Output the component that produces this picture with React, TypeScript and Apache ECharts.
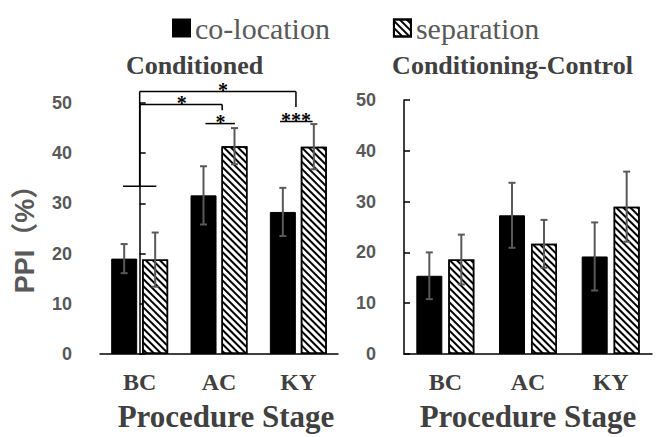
import React, { useEffect, useRef } from 'react';
import * as echarts from 'echarts';

const categories = ['BC', 'AC', 'KY'];
const seriesNames = ['co-location', 'separation'];
const panelTitles = ['Conditioned', 'Conditioning-Control'];
const yAxisName = 'PPI（%）';
const xAxisName = 'Procedure Stage';

// Conditioned panel
const condColocation = [19.0, 31.6, 28.3];
const condColocationErr = [2.9, 5.8, 4.8];
const condSeparation = [18.8, 41.4, 41.3];
const condSeparationErr = [5.4, 3.6, 4.5];

// Conditioning-Control panel
const ctrlColocation = [15.4, 27.3, 19.2];
const ctrlColocationErr = [4.6, 6.4, 6.7];
const ctrlSeparation = [18.6, 21.7, 29.0];
const ctrlSeparationErr = [4.9, 4.7, 6.9];

// significance brackets (x in category-index units, y in PPI units)
const sigLines = [
  [-0.21, 33.4, 0.21, 33.4],
  [0, 33.4, 0, 52.3],
  [0, 52.3, 1.97, 52.3],
  [1.97, 52.3, 1.97, 49.2],
  [0, 49.7, 1.04, 49.7],
  [1.04, 49.7, 1.04, 48.55],
  [0.83, 45.9, 1.2, 45.9],
  [1.77, 46.3, 2.18, 46.3],
];
const sigStarPos = [
  [1.05, 52.3],
  [0.53, 49.7],
  [1.02, 45.9],
  [1.97, 46.3],
];
const sigStarText = ['*', '*', '*', '***'];

const SERIF = '"Liberation Serif", "Times New Roman", serif';
const SANS = '"Liberation Sans", "Noto Sans CJK SC", sans-serif';

const hatch = {
  symbol: 'rect',
  symbolSize: 1,
  dashArrayX: [1, 0],
  dashArrayY: [2, 2.2],
  rotation: Math.PI / 4,
  color: '#000',
  backgroundColor: '#fff',
};

function errRender(offset: number) {
  return (params: any, api: any) => {
    const i = api.value(0);
    const m = api.value(1);
    const e = api.value(2);
    const top = api.coord([i, m + e]);
    const bot = api.coord([i, m - e]);
    const x = top[0] + offset;
    const cap = 3.5;
    const st = { stroke: '#595959', lineWidth: 2 };
    return {
      type: 'group',
      children: [
        { type: 'line', shape: { x1: x, y1: top[1], x2: x, y2: bot[1] }, style: st },
        { type: 'line', shape: { x1: x - cap, y1: top[1], x2: x + cap, y2: top[1] }, style: st },
        { type: 'line', shape: { x1: x - cap, y1: bot[1], x2: x + cap, y2: bot[1] }, style: st },
      ],
    };
  };
}

const errData = (vals: number[], errs: number[]) => vals.map((v, i) => [i, v, errs[i]]);

export default function App() {
  const ref = useRef<HTMLDivElement>(null);
  useEffect(() => {
    if (!ref.current) return;
    const chart = echarts.init(ref.current, null, { renderer: 'svg' });

    const yAxisBase = {
      type: 'value',
      min: 0,
      max: 50,
      interval: 10,
      axisLine: { show: true, lineStyle: { color: '#000', width: 1.5 } },
      axisTick: { show: true, inside: true, length: 6, lineStyle: { color: '#000', width: 1.5 } },
      splitLine: { show: false },
      axisLabel: { fontFamily: SANS, fontWeight: 'bold', fontSize: 18, color: '#595959', margin: 28 },
    };
    const xAxisBase = {
      type: 'category',
      data: categories,
      axisLine: { show: true, lineStyle: { color: '#000', width: 1.5 } },
      axisTick: { show: false },
      axisLabel: { fontFamily: SERIF, fontWeight: 'bold', fontSize: 24, color: '#404040', margin: 16 },
      name: xAxisName,
      nameLocation: 'middle',
      nameGap: 47,
    };
    const xNameStyle = { fontFamily: SERIF, fontWeight: 'bold', fontSize: 31, color: '#404040' };

    const blackStyle = { color: '#000', borderColor: '#000', borderWidth: 1 };
    const hatchStyle = { color: '#fff', borderColor: '#000', borderWidth: 1.5, decal: hatch };

    chart.setOption({
      animation: false,
      backgroundColor: '#fff',
      legend: {
        data: seriesNames,
        left: 167,
        top: 8,
        icon: 'rect',
        itemWidth: 17,
        itemHeight: 17,
        itemGap: 63,
        textStyle: { fontFamily: SERIF, fontSize: 30, color: '#595959' },
      },
      graphic: [
        {
          type: 'text',
          x: 194.5,
          y: 65,
          style: {
            text: panelTitles[0],
            fontFamily: SERIF,
            fontWeight: 'bold',
            fontSize: 26,
            fill: '#404040',
            align: 'center',
            verticalAlign: 'middle',
          },
        },
        {
          type: 'text',
          x: 512.5,
          y: 65,
          style: {
            text: panelTitles[1],
            fontFamily: SERIF,
            fontWeight: 'bold',
            fontSize: 26,
            fill: '#404040',
            align: 'center',
            verticalAlign: 'middle',
          },
        },
      ],
      grid: [
        { left: 100, top: 103, width: 238, height: 252 },
        { left: 404, top: 100, width: 248, height: 256 },
      ],
      xAxis: [
        { ...xAxisBase, gridIndex: 0, nameTextStyle: { ...xNameStyle, padding: [0, 0, 0, 14] } },
        { ...xAxisBase, gridIndex: 1, nameTextStyle: xNameStyle },
        { type: 'value', gridIndex: 0, min: -0.5, max: 2.5, show: false },
      ],
      yAxis: [
        {
          ...yAxisBase,
          gridIndex: 0,
          name: yAxisName,
          nameLocation: 'middle',
          nameRotate: 90,
          nameGap: 62,
          nameTextStyle: {
            fontFamily: SANS,
            fontWeight: 'bold',
            fontSize: 27,
            color: '#595959',
            padding: [0, 8, 0, 0],
          },
        },
        { ...yAxisBase, gridIndex: 1 },
      ],
      series: [
        {
          type: 'bar', name: seriesNames[0], xAxisIndex: 0, yAxisIndex: 0,
          data: condColocation, barWidth: 26, barGap: '19%', itemStyle: blackStyle,
        },
        {
          type: 'bar', name: seriesNames[1], xAxisIndex: 0, yAxisIndex: 0,
          data: condSeparation, barWidth: 26, barGap: '19%', itemStyle: hatchStyle,
        },
        {
          type: 'bar', name: seriesNames[0], xAxisIndex: 1, yAxisIndex: 1,
          data: ctrlColocation, barWidth: 26, barGap: '23%', itemStyle: blackStyle,
        },
        {
          type: 'bar', name: seriesNames[1], xAxisIndex: 1, yAxisIndex: 1,
          data: ctrlSeparation, barWidth: 26, barGap: '23%', itemStyle: hatchStyle,
        },
        {
          type: 'custom', xAxisIndex: 0, yAxisIndex: 0, z: 10,
          renderItem: errRender(-15.5), data: errData(condColocation, condColocationErr),
        },
        {
          type: 'custom', xAxisIndex: 0, yAxisIndex: 0, z: 10,
          renderItem: errRender(15.5), data: errData(condSeparation, condSeparationErr),
        },
        {
          type: 'custom', xAxisIndex: 1, yAxisIndex: 1, z: 10,
          renderItem: errRender(-16), data: errData(ctrlColocation, ctrlColocationErr),
        },
        {
          type: 'custom', xAxisIndex: 1, yAxisIndex: 1, z: 10,
          renderItem: errRender(16), data: errData(ctrlSeparation, ctrlSeparationErr),
        },
        {
          type: 'custom', xAxisIndex: 2, yAxisIndex: 0, z: 10, clip: false,
          renderItem: (params: any, api: any) => {
            const p1 = api.coord([api.value(0), api.value(1)]);
            const p2 = api.coord([api.value(2), api.value(3)]);
            return {
              type: 'line',
              shape: { x1: p1[0], y1: p1[1], x2: p2[0], y2: p2[1] },
              style: { stroke: '#000', lineWidth: 1.5 },
            };
          },
          data: sigLines,
        },
        {
          type: 'custom', xAxisIndex: 2, yAxisIndex: 0, z: 10, clip: false,
          renderItem: (params: any, api: any) => {
            const p = api.coord([api.value(0), api.value(1)]);
            return {
              type: 'text',
              x: p[0],
              y: p[1] - 1.5,
              style: {
                text: sigStarText[params.dataIndex],
                fontFamily: SERIF,
                fontWeight: 'bold',
                fontSize: 20,
                lineHeight: 9,
                fill: '#000',
                align: 'center',
                verticalAlign: 'middle',
              },
            };
          },
          data: sigStarPos,
        },
      ],
    });
    return () => chart.dispose();
  }, []);
  return (
    <div
      ref={ref}
      style={{ position: 'fixed', left: 0, top: 0, width: 660, height: 437, background: '#fff' }}
    />
  );
}
